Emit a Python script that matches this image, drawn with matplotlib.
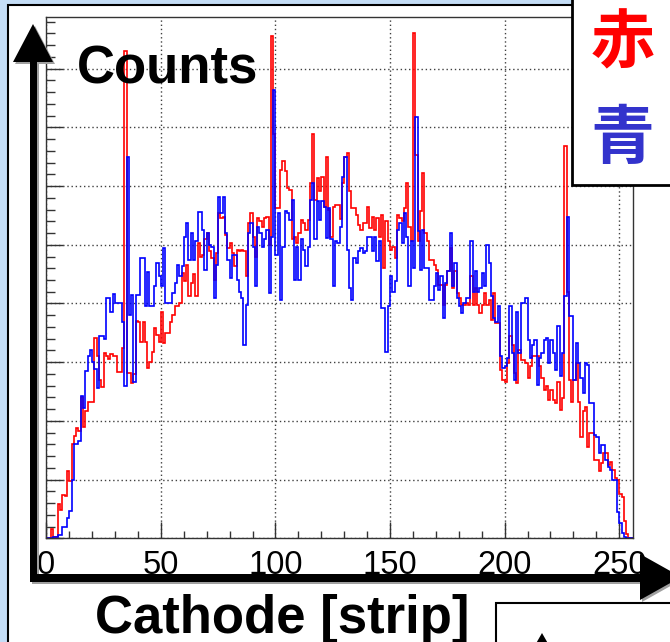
import numpy as np
import matplotlib
matplotlib.use("Agg")
import matplotlib.pyplot as plt
from matplotlib.patches import Rectangle, Polygon
from matplotlib.ticker import MultipleLocator

# ---------------- data (counts per cathode strip, arbitrary units) ----------------
red_counts = [
    0, 0, 1.5, 0.3, 0.2, 5.9, 4.9, 7.3, 7.2, 11.4,
    9.8, 16.0, 17.5, 18.8, 18.3, 24.0, 19.0, 21.7, 23.2, 23.3,
    23.2, 34.1, 31.0, 27.0, 25.8, 31.5, 31.0, 30.6, 31.4, 31.0,
    31.0, 28.4, 28.4, 32.4, 83.0, 28.1, 28.1, 26.4, 28.0, 37.0,
    36.9, 33.5, 36.9, 33.5, 29.0, 30.0, 31.8, 35.8, 34.7, 33.4,
    38.5, 33.2, 34.9, 34.9, 36.9, 38.0, 39.5, 39.5, 40.0, 45.2,
    43.8, 46.6, 41.2, 43.5, 45.0, 41.2, 50.3, 48.0, 48.3, 51.0,
    52.0, 49.0, 47.7, 44.0, 48.6, 55.4, 54.5, 54.8, 51.7, 49.4,
    50.3, 48.6, 46.3, 49.1, 49.0, 49.1, 48.9, 44.6, 53.7, 55.4,
    51.4, 48.0, 54.5, 54.0, 53.0, 54.5, 54.8, 50.0, 85.5, 68.8,
    56.3, 56.3, 62.8, 64.2, 62.5, 59.7, 59.4, 50.9, 51.4, 50.3,
    52.0, 54.3, 53.7, 52.6, 54.3, 60.5, 68.8, 57.7, 61.4, 59.1,
    61.6, 56.5, 65.0, 56.0, 51.4, 56.5, 56.8, 56.8, 54.4, 60.5,
    65.0, 65.6, 59.1, 56.3, 56.3, 55.1, 53.4, 52.6, 53.7, 53.7,
    56.5, 52.8, 54.8, 52.6, 54.5, 51.4, 55.1, 46.0, 54.0, 50.6,
    49.1, 49.7, 47.7, 55.1, 54.5, 54.0, 56.3, 60.5, 53.0, 50.6,
    86.0, 65.3, 50.6, 55.7, 62.2, 52.0, 50.6, 47.4, 47.4, 46.5,
    45.7, 43.2, 43.2, 39.8, 43.2, 45.5, 49.4, 42.6, 45.5, 41.8,
    40.9, 39.8, 39.8, 40.0, 39.8, 44.6, 39.8, 42.6, 39.8, 38.4,
    39.8, 41.8, 39.8, 40.6, 37.2, 41.8, 36.6, 36.6, 28.7, 27.0,
    26.7, 29.8, 34.4, 33.0, 28.1, 26.4, 32.1, 30.4, 30.4, 29.8,
    27.3, 29.3, 31.0, 31.0, 31.0, 29.3, 27.3, 25.3, 25.9, 23.6,
    25.3, 23.6, 23.0, 26.7, 21.9, 23.9, 66.8, 42.0, 27.0, 23.3,
    27.0, 29.8, 23.3, 17.3, 21.6, 22.4, 15.6, 17.9, 17.9, 13.4,
    13.4, 11.4, 12.8, 14.5, 14.5, 12.5, 13.0, 11.6, 10.3, 10.0,
    7.6, 7.0, 3.0, 0.8, 0, 0,
]

blue_counts = [
    0, 0, 0, 0.2, 0.3, 0.6, 0.6, 1.9, 1.9, 3.5,
    4.6, 10.0, 16.0, 16.0, 16.5, 24.2, 22.2, 28.5, 31.1, 32.0,
    30.0, 28.8, 25.6, 34.5, 34.5, 34.0, 40.9, 40.9, 38.6, 41.6,
    40.0, 40.0, 40.0, 36.9, 25.9, 65.0, 38.0, 41.5, 26.7, 41.5,
    41.5, 47.7, 47.7, 39.5, 45.3, 39.5, 39.5, 42.9, 46.9, 44.6,
    42.9, 49.4, 40.0, 40.0, 40.0, 41.8, 43.5, 46.5, 44.6, 46.3,
    51.4, 53.7, 47.4, 52.0, 47.4, 50.6, 55.5, 55.5, 52.6, 45.7,
    52.0, 50.0, 49.7, 40.9, 46.6, 58.2, 55.4, 58.2, 52.0, 47.4,
    44.3, 48.3, 48.3, 44.0, 42.0, 40.9, 33.0, 39.8, 52.0, 53.7,
    49.7, 42.9, 53.0, 52.0, 49.7, 50.9, 52.6, 41.8, 51.4, 76.4,
    48.3, 55.4, 40.6, 49.7, 55.7, 55.4, 54.3, 57.7, 44.0, 49.7,
    44.0, 50.9, 49.1, 46.3, 49.7, 57.7, 60.5, 50.9, 57.4, 54.3,
    57.4, 56.5, 51.1, 56.3, 50.9, 42.9, 50.6, 50.3, 53.0, 61.6,
    65.0, 49.1, 42.6, 40.6, 47.7, 46.9, 48.9, 49.4, 48.6, 48.9,
    51.4, 51.4, 48.9, 51.4, 47.2, 50.6, 39.2, 39.2, 31.8, 39.5,
    44.6, 42.0, 43.8, 52.6, 53.7, 50.3, 55.4, 51.4, 42.9, 50.6,
    46.0, 71.7, 52.3, 45.7, 52.6, 46.0, 46.0, 40.6, 40.6, 43.0,
    45.2, 42.3, 44.6, 37.5, 43.5, 45.5, 52.0, 42.9, 46.9, 40.9,
    39.5, 38.4, 40.0, 40.9, 40.9, 50.6, 42.0, 45.5, 42.0, 42.6,
    45.2, 42.9, 50.0, 46.9, 41.2, 37.5, 36.9, 39.5, 31.0, 29.0,
    29.3, 30.7, 39.5, 31.5, 27.0, 38.6, 31.5, 40.0, 40.0, 40.9,
    33.8, 30.7, 33.0, 33.8, 26.1, 30.7, 31.5, 33.8, 34.1, 29.8,
    33.8, 31.5, 28.7, 36.1, 27.6, 31.5, 41.2, 54.8, 37.8, 37.8,
    27.0, 33.2, 29.8, 27.3, 24.7, 29.8, 29.5, 23.0, 23.0, 17.6,
    17.3, 14.5, 15.9, 15.9, 13.4, 12.2, 11.6, 9.9, 9.9, 4.5,
    2.6, 0.9, 0.3, 0, 0, 0,
]

strip_edges = np.arange(0, len(red_counts) + 1)
x_major_ticks = [0, 50, 100, 150, 200, 250]
x_tick_labels = ["0", "50", "100", "150", "200", "250"]
x_title = "Cathode [strip]"
y_title = "Counts"
legend_labels = ["赤", "青"]
series_colors = ["#ff0000", "#0000ff"]
legend_text_colors = ["#ff0000", "#3333cc"]

# ---------------- figure ----------------
W, H = 670, 642
fig = plt.figure(figsize=(W / 100, H / 100), dpi=100)
fig.patch.set_facecolor("#c4ddf6")

bg = fig.add_axes([0, 0, 1, 1], zorder=0)
bg.set_xlim(0, W)
bg.set_ylim(H, 0)
bg.axis("off")
bg.add_patch(Rectangle((7.5, 5.0), 800, 800, facecolor="white",
                       edgecolor="black", lw=1.5))

ax_l, ax_r, ax_t, ax_b = 46.3, 633.0, 17.0, 538.3
ax = fig.add_axes([ax_l / W, 1 - ax_b / H, (ax_r - ax_l) / W, (ax_b - ax_t) / H],
                  zorder=1)
ax.patch.set_alpha(0)
ax.stairs(red_counts, strip_edges, color=series_colors[0], lw=1.2, zorder=2)
ax.stairs(blue_counts, strip_edges, color=series_colors[1], lw=1.2, zorder=2.1)
ax.set_xlim(0, 256)
ax.set_ylim(0, 88.8)

ax.set_xticks(x_major_ticks, x_tick_labels)
ax.xaxis.set_minor_locator(MultipleLocator(10))
ax.yaxis.set_major_locator(MultipleLocator(10))
ax.yaxis.set_minor_locator(MultipleLocator(2))
ax.tick_params(axis="both", which="both", direction="in", color="#333333",
               width=1.0, top=False, right=False)
ax.tick_params(axis="x", which="major", length=11.3, pad=8.5, labelsize=23.5)
ax.tick_params(axis="x", which="minor", length=5.3)
ax.tick_params(axis="y", which="major", length=12.2, labelleft=False)
ax.tick_params(axis="y", which="minor", length=6.3)
for lab in ax.get_xticklabels():
    lab.set_fontfamily("Liberation Sans")
ax.grid(True, which="major", color="#404040", linestyle=(0, (1, 2)), lw=1.0)
for s in ax.spines.values():
    s.set_color("#333333")
    s.set_linewidth(1.0)

# ---------------- overlay: arrows, titles, boxes ----------------
ov = fig.add_axes([0, 0, 1, 1], zorder=3)
ov.set_xlim(0, W)
ov.set_ylim(H, 0)
ov.axis("off")
ov.patch.set_alpha(0)


def arrow_polys(dx=0.0, dy=0.0):
    yshaft = [(29.5 + dx, 581.5 + dy), (36.5 + dx, 581.5 + dy),
              (36.5 + dx, 61 + dy), (29.5 + dx, 61 + dy)]
    yhead = [(13 + dx, 62 + dy), (53 + dx, 62 + dy), (33 + dx, 24 + dy)]
    xshaft = [(29.5 + dx, 574 + dy), (642 + dx, 574 + dy),
              (642 + dx, 581.5 + dy), (29.5 + dx, 581.5 + dy)]
    xhead = [(640 + dx, 554 + dy), (640 + dx, 600 + dy), (681 + dx, 577 + dy)]
    return [yshaft, yhead, xshaft, xhead]


for p in arrow_polys(2, 2):
    ov.add_patch(Polygon(p, closed=True, facecolor="#a0a0a0", edgecolor="none"))
for p in arrow_polys():
    ov.add_patch(Polygon(p, closed=True, facecolor="black", edgecolor="none"))

ov.text(77, 83, y_title, fontsize=38, fontweight="bold",
        family="Liberation Sans", ha="left", va="baseline", color="black")
ov.text(95, 633, x_title, fontsize=38, fontweight="bold",
        family="Liberation Sans", ha="left", va="baseline", color="black")

# legend box (top right)
ov.add_patch(Rectangle((572, -20), 130, 205, facecolor="white",
                       edgecolor="black", lw=2.0))
ov.text(623, 44, legend_labels[0], fontsize=46, fontweight="bold",
        family=["Noto Sans CJK JP", "DejaVu Sans"], ha="center", va="center",
        color=legend_text_colors[0])
ov.text(622, 139, legend_labels[1], fontsize=46, fontweight="bold",
        family=["Noto Sans CJK JP", "DejaVu Sans"], ha="center", va="center",
        color=legend_text_colors[1])

# second box (bottom right, cut off)
ov.add_patch(Rectangle((496, 603), 220, 80, facecolor="white",
                       edgecolor="black", lw=1.5))
ov.add_patch(Polygon([(542, 633), (530, 654), (554, 654)], closed=True,
                     facecolor="black", edgecolor="none"))

fig.savefig("out.png", dpi=100, facecolor=fig.get_facecolor())
